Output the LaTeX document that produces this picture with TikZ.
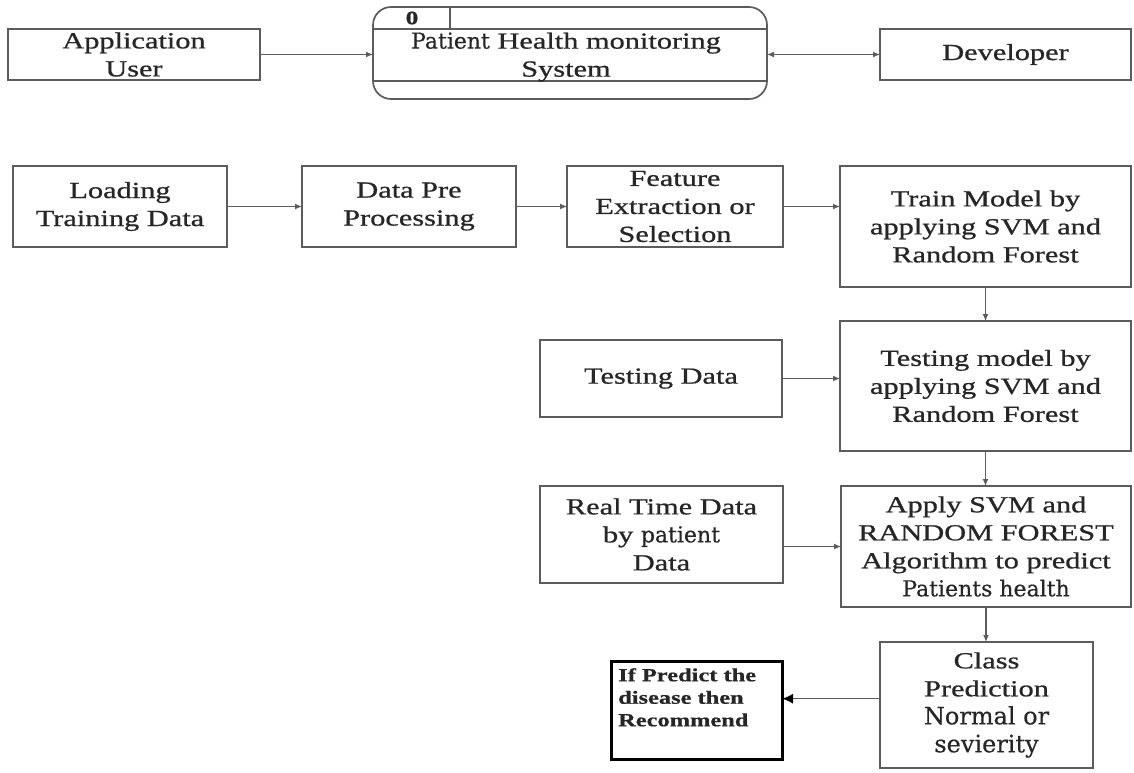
\documentclass[tikz,border=0pt]{standalone}
\usepackage{fontspec}
\setmainfont{Liberation Serif}[FakeStretch=1.32,FakeBold=0.8]
\newfontfamily\widefont{DejaVu Serif}[FakeBold=0.4]
\usetikzlibrary{arrows.meta,calc}
\definecolor{ink}{HTML}{262626}
\definecolor{edge}{HTML}{5C5C5C}
\tikzset{
  box/.style={draw=edge, line width=1.7pt, inner sep=0pt, outer sep=0pt,
    align=center, text=ink, font=\fontsize{23}{28}\selectfont},
  label/.style={inner sep=0pt, align=center, text=ink, font=\fontsize{23}{28}\selectfont},
  arr/.style={draw=edge, line width=1.2pt, -{Latex[length=7pt,width=6pt]}},
  dblarr/.style={draw=edge, line width=1.2pt, {Latex[length=7pt,width=6pt]}-{Latex[length=7pt,width=6pt]}},
  bigarr/.style={draw=edge, line width=1.4pt, -{Latex[length=11pt,width=10pt,color=black]}},
}
\begin{document}
\begin{tikzpicture}[x=1pt,y=-1pt]
\useasboundingbox[fill=white] (0,0) rectangle (1134,772);

% context level: user, system, developer
\node[box, minimum width=252pt, minimum height=51pt] (app) at (134,54.5) {Application\\User};
\node[draw=edge, line width=1.7pt, rounded corners=18pt, inner sep=0pt, outer sep=0pt,
      minimum width=394pt, minimum height=92pt] (sys) at (570,53) {};
\draw[draw=edge, line width=1.4pt] (sys.west |- 0,29) -- (sys.east |- 0,29);
\draw[draw=edge, line width=1.4pt] (sys.west |- 0,81) -- (sys.east |- 0,81);
\draw[draw=edge, line width=1.4pt] (450,0 |- sys.north) -- (450,29);
\node[label, font=\bfseries\fontsize{19}{22}\selectfont] (sysid) at (412,18) {0};
\node[label] (systitle) at (566,57) {{\widefont\fontsize{22}{28}\selectfont Patient} Health monitoring\\System};
\node[box, minimum width=251pt, minimum height=51pt] (dev) at (1005.5,54.5) {Developer};

\draw[arr] (app.east) -- (app.east -| sys.west);
\draw[dblarr] (sys.east |- dev.west) -- (dev.west);

% training pipeline
\node[box, minimum width=214pt, minimum height=81pt] (load) at (120,206.5) {Loading\\Training Data};
\node[box, minimum width=214pt, minimum height=81pt] (pre) at (409,206.5) {Data Pre\\Processing};
\node[box, minimum width=216pt, minimum height=81pt] (feat) at (675,206.5) {Feature\\Extraction or\\Selection};
\node[box, minimum width=291pt, minimum height=121pt] (train) at (985.5,226.5) {Train Model by\\applying SVM and\\Random Forest};

\draw[arr] (load.east) -- (pre.west);
\draw[arr] (pre.east) -- (feat.west);
\draw[arr] (feat.east) -- (feat.east -| train.west);

% testing
\node[box, minimum width=242pt, minimum height=77pt] (testd) at (661,378.5) {Testing Data};
\node[box, minimum width=291pt, minimum height=130pt] (testm) at (985.5,386) {Testing model by\\applying SVM and\\Random Forest};

\draw[arr] (train.south) -- (train.south |- testm.north);
\draw[arr] (testd.east) -- (testd.east -| testm.west);

% prediction on live data
\node[box, minimum width=243pt, minimum height=97pt] (real) at (661.5,534.5)
  {Real Time Data\\by {\widefont\fontsize{22}{28}\selectfont patient}\\Data};
\node[box, minimum width=290pt, minimum height=121pt] (apply) at (986,546.5)
  {Apply SVM and\\RANDOM FOREST\\Algorithm to predict\\{\widefont\fontsize{22}{28}\selectfont Patients health}};

\draw[arr] (testm.south) -- (testm.south |- apply.north);
\draw[arr] (real.east |- apply.west) -- (apply.west);

% classification and recommendation
\node[box, minimum width=213pt, minimum height=126pt] (cls) at (986.5,705)
  {Class\\Prediction\\{\widefont\fontsize{24}{30}\selectfont Normal or}\\{\widefont\fontsize{24}{30}\selectfont sevierity}};
\node[draw=black, line width=3pt, inner sep=0pt, outer sep=0pt,
      minimum width=171pt, minimum height=98pt] (rec) at (696.5,710) {};
\node[label, anchor=north west, align=left, font=\bfseries\fontsize{18.5}{22.5}\selectfont]
  (rectext) at (618,668) {If Predict the\\disease then\\Recommend};

\draw[arr] (apply.south) -- (apply.south |- cls.north);
\coordinate (clsout) at ($(cls.north west)!0.45!(cls.south west)$);
\draw[bigarr] (clsout) -- (clsout -| rec.east);
\end{tikzpicture}
\end{document}
